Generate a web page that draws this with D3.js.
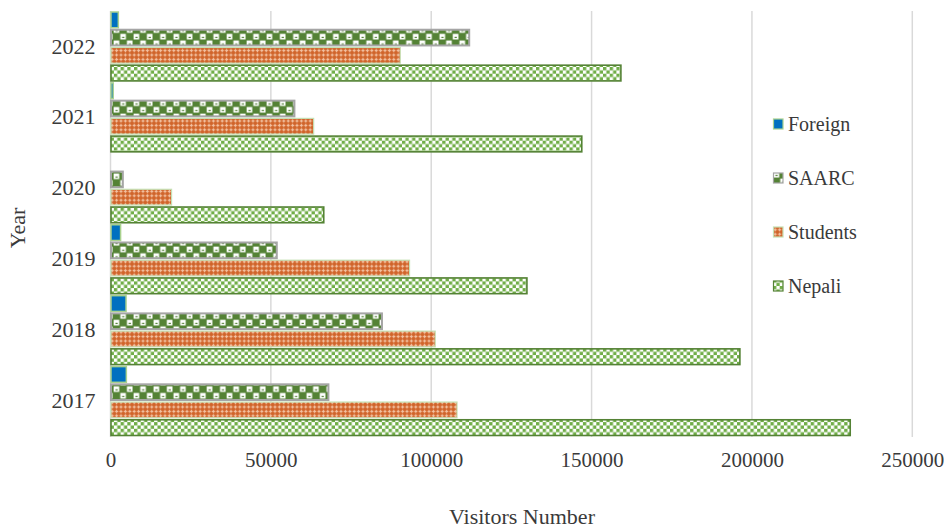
<!DOCTYPE html>
<html>
<head>
<meta charset="utf-8">
<script src="https://cdn.jsdelivr.net/npm/d3@7/dist/d3.min.js"></script>
<style>
  html, body { margin: 0; padding: 0; background: #fff; }
  svg { display: block; }
  svg text { font-family: "Liberation Serif", "Times New Roman", "DejaVu Serif", serif; }
</style>
</head>
<body>
<svg id="chart" width="944" height="528"></svg>
<script>
// Visitors per year by visitor type
const years = ["2017", "2018", "2019", "2020", "2021", "2022"];
const seriesNames = ["Foreign", "SAARC", "Students", "Nepali"];
const foreign  = [5100, 5000, 3300, 0, 1000, 2600];
const saarc    = [68100, 84800, 52000, 4000, 57500, 112000];
const students = [108200, 101400, 93400, 19200, 63500, 90500];
const nepali   = [230800, 196400, 130000, 66650, 147100, 159300];
const xTicks = [0, 50000, 100000, 150000, 200000, 250000];

const valuesBySeries = { Foreign: foreign, SAARC: saarc, Students: students, Nepali: nepali };

const svg = d3.select("#chart");
const plot = { left: 110.5, right: 912.3, top: 11, bottom: 436.5 };
const textColor = "#3a3a3a";
const serif = "'Liberation Serif', 'Times New Roman', 'DejaVu Serif', serif";

// ---- fill patterns ----
const defs = svg.append("defs");

// Nepali: small green checkerboard
const pN = defs.append("pattern").attr("id", "pat-nepali")
  .attr("patternUnits", "userSpaceOnUse").attr("width", 6.7).attr("height", 6.7);
pN.append("rect").attr("width", 6.7).attr("height", 6.7).attr("fill", "#ffffff");
pN.append("rect").attr("x", 0).attr("y", 0).attr("width", 3.35).attr("height", 3.35).attr("fill", "#70ad47");
pN.append("rect").attr("x", 3.35).attr("y", 3.35).attr("width", 3.35).attr("height", 3.35).attr("fill", "#70ad47");

// Students: orange with small light crosses
const pS = defs.append("pattern").attr("id", "pat-students")
  .attr("patternUnits", "userSpaceOnUse").attr("width", 4.4).attr("height", 4.4);
pS.append("rect").attr("width", 4.4).attr("height", 4.4).attr("fill", "#d0642a");
pS.append("rect").attr("x", 1.6).attr("y", 0.6).attr("width", 1.2).attr("height", 3.2).attr("fill", "#f3c2a2");
pS.append("rect").attr("x", 0.6).attr("y", 1.6).attr("width", 3.2).attr("height", 1.2).attr("fill", "#f3c2a2");

// SAARC: dark green field with white cells, each holding a small dark mark
const pA = defs.append("pattern").attr("id", "pat-saarc")
  .attr("patternUnits", "userSpaceOnUse").attr("width", 13.3).attr("height", 13.3);
pA.append("rect").attr("width", 13.3).attr("height", 13.3).attr("fill", "#548235");
[[6.65, 0], [0, 6.65]].forEach(([x, y]) => {
  pA.append("rect").attr("x", x + 0.6).attr("y", y + 0.6).attr("width", 5.6).attr("height", 5.6)
    .attr("fill", "#ffffff");
  pA.append("rect").attr("x", x + 2.4).attr("y", y + 3.6).attr("width", 2.2).attr("height", 1.2)
    .attr("fill", "#548235");
});

const fills = {
  Foreign:  { fill: "#0070c0", stroke: "#a9d18e", sw: 1.5 },
  SAARC:    { fill: "url(#pat-saarc)", stroke: "#a5a5a5", sw: 2 },
  Students: { fill: "url(#pat-students)", stroke: "#c5e0b4", sw: 1.2 },
  Nepali:   { fill: "url(#pat-nepali)", stroke: "#548235", sw: 1.6 }
};

// ---- scales ----
const x = d3.scaleLinear().domain([0, 250000]).range([plot.left, plot.right]);
const y = d3.scaleBand().domain(years.slice().reverse()).range([plot.top, plot.bottom]).padding(0);
const ySub = d3.scaleBand().domain(seriesNames).range([0, y.bandwidth()]).padding(0);

// ---- gridlines ----
svg.append("g").selectAll("line").data(xTicks).join("line")
  .attr("x1", d => x(d)).attr("x2", d => x(d))
  .attr("y1", plot.top).attr("y2", plot.bottom + 0.5)
  .attr("stroke", "#d9d9d9").attr("stroke-width", 1.5);

// ---- bars ----
const barData = [];
years.forEach((yr, i) => {
  seriesNames.forEach(s => barData.push({ year: yr, series: s, value: valuesBySeries[s][i] }));
});

svg.append("g").selectAll("rect").data(barData.filter(d => d.value > 0)).join("rect")
  .attr("x", x(0) + 0.5)
  .attr("y", d => y(d.year) + ySub(d.series) + 1)
  .attr("width", d => Math.max(1.5, x(d.value) - x(0) - 1))
  .attr("height", ySub.bandwidth() - 2)
  .attr("fill", d => fills[d.series].fill)
  .attr("stroke", d => fills[d.series].stroke)
  .attr("stroke-width", d => fills[d.series].sw);

// ---- x axis labels ----
const xAxis = d3.axisBottom(x).tickValues(xTicks).tickFormat(d3.format("d")).tickSize(0).tickPadding(0);
const gx = svg.append("g").attr("transform", `translate(0, ${plot.bottom + 16})`).call(xAxis);
gx.attr("font-family", serif);
gx.select(".domain").remove();
gx.selectAll("text").attr("font-family", serif).attr("font-size", 21)
  .attr("fill", textColor).attr("dy", "0.71em");

// ---- y axis labels ----
const yAxis = d3.axisLeft(y).tickSize(0).tickPadding(0);
const gy = svg.append("g").attr("transform", `translate(${plot.left - 15}, 0)`).call(yAxis);
gy.attr("font-family", serif);
gy.select(".domain").remove();
gy.selectAll("text").attr("font-family", serif).attr("font-size", 22)
  .attr("fill", textColor);

// ---- axis titles ----
svg.append("text").attr("x", 522).attr("y", 524).attr("text-anchor", "middle")
  .attr("font-family", serif).attr("font-size", 22).attr("fill", textColor).text("Visitors Number");
svg.append("text").attr("transform", "translate(25, 228) rotate(-90)").attr("text-anchor", "middle")
  .attr("font-family", serif).attr("font-size", 22).attr("fill", textColor).text("Year");

// ---- legend ----
const legend = svg.append("g").selectAll("g").data(seriesNames).join("g")
  .attr("transform", (d, i) => `translate(773, ${124 + i * 54})`);
legend.append("rect").attr("x", 0.5).attr("y", -5).attr("width", 9.5).attr("height", 10)
  .attr("fill", d => fills[d].fill).attr("stroke", d => fills[d].stroke).attr("stroke-width", 1.2);
legend.append("text").attr("x", 15).attr("y", 7).attr("font-family", serif).attr("font-size", 20)
  .attr("fill", textColor).text(d => d);
</script>
</body>
</html>
